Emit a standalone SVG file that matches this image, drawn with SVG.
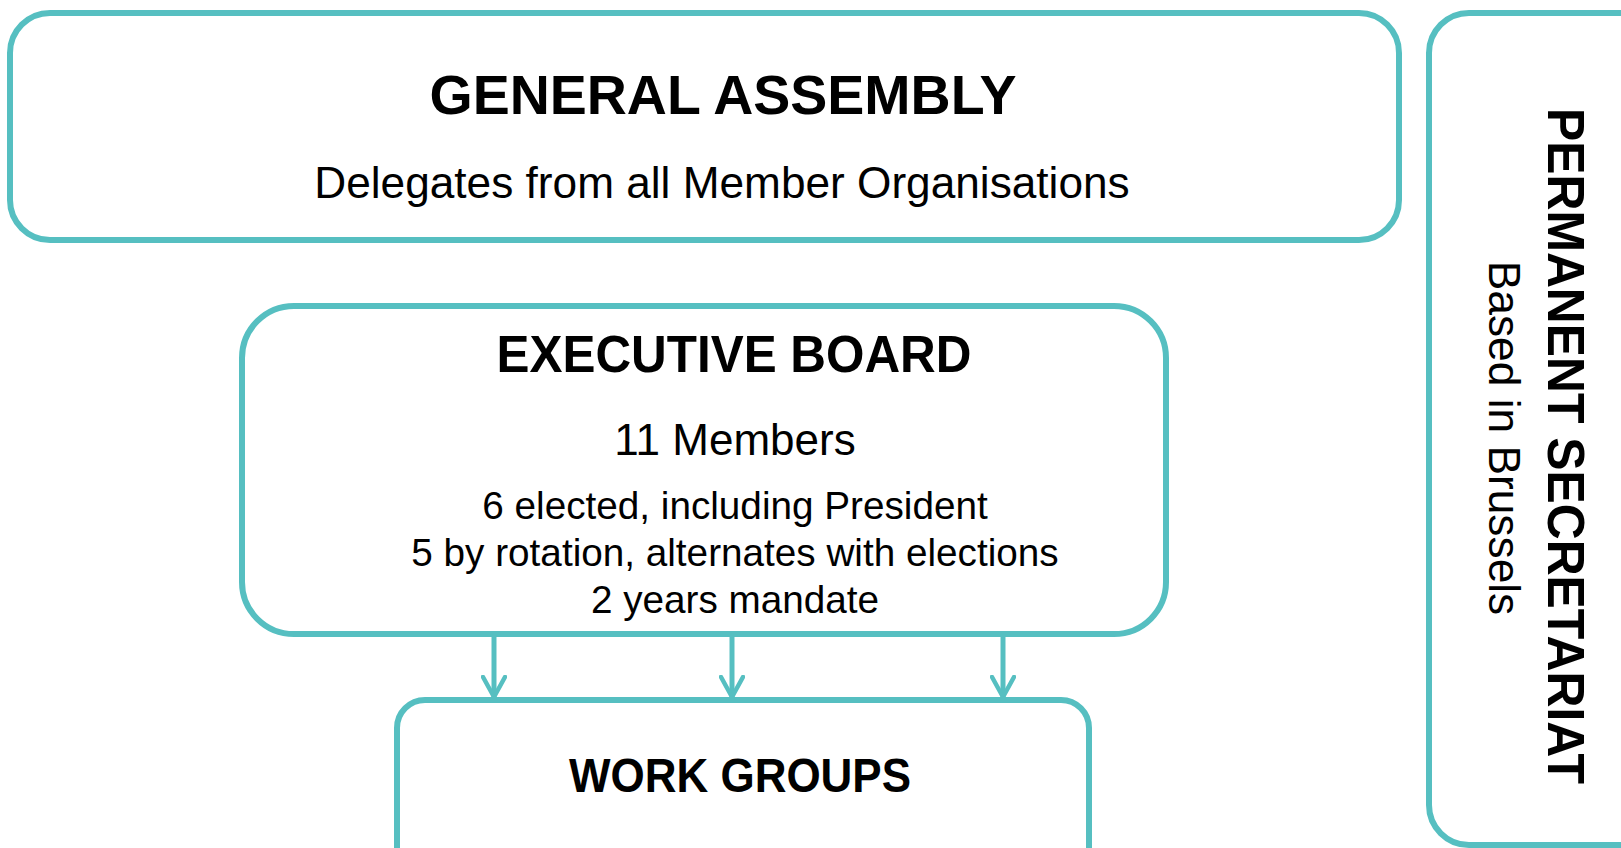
<svg xmlns="http://www.w3.org/2000/svg" width="1621" height="848" viewBox="0 0 1621 848">
<style>
.box{fill:#fff;stroke:#56BFC1;stroke-width:6}
.t{font-family:"Liberation Sans",Arial,sans-serif;fill:#000;text-anchor:middle}
.b{font-weight:bold}
.conn line{stroke:#56BFC1;stroke-width:5}
</style>
<defs>
<marker id="arr" viewBox="0 0 24 26" refX="22" refY="13" markerWidth="24" markerHeight="26" markerUnits="userSpaceOnUse" orient="auto">
<path d="M2,2 L22,13 L2,24" fill="none" stroke="#56BFC1" stroke-width="4.5" stroke-linecap="round" stroke-linejoin="round"/>
</marker>
</defs>
<rect width="1621" height="848" fill="#fff"/>
<g id="general-assembly">
<rect class="box" x="10" y="13" width="1389" height="227" rx="40"/>
<text class="t b" x="723" y="114" font-size="55.5">GENERAL ASSEMBLY</text>
<text class="t" x="722" y="198" font-size="44.2">Delegates from all Member Organisations</text>
</g>
<g id="permanent-secretariat">
<rect class="box" x="1429" y="13" width="240" height="832" rx="40"/>
<text class="t b" x="1548" y="446" font-size="52" textLength="676" lengthAdjust="spacingAndGlyphs" transform="rotate(90 1548 446)">PERMANENT SECRETARIAT</text>
<text class="t" x="1489" y="438" font-size="44.3" transform="rotate(90 1489 438)">Based in Brussels</text>
</g>
<g id="executive-board">
<rect class="box" x="242" y="306" width="924" height="328" rx="52"/>
<text class="t b" x="734" y="372" font-size="52" textLength="475" lengthAdjust="spacingAndGlyphs">EXECUTIVE BOARD</text>
<text class="t" x="735" y="455" font-size="44">11 Members</text>
<text class="t" x="735" y="519" font-size="38.7">6 elected, including President</text>
<text class="t" x="735" y="566" font-size="38.7">5 by rotation, alternates with elections</text>
<text class="t" x="735" y="613" font-size="38.7">2 years mandate</text>
</g>
<g id="work-groups">
<rect class="box" x="397" y="700" width="692" height="200" rx="28"/>
<text class="t b" x="740" y="792" font-size="48" textLength="342" lengthAdjust="spacingAndGlyphs">WORK GROUPS</text>
</g>
<g id="connectors" class="conn">
<line x1="494" y1="637" x2="494" y2="697" marker-end="url(#arr)"/>
<line x1="732" y1="637" x2="732" y2="697" marker-end="url(#arr)"/>
<line x1="1003" y1="637" x2="1003" y2="697" marker-end="url(#arr)"/>
</g>
</svg>
